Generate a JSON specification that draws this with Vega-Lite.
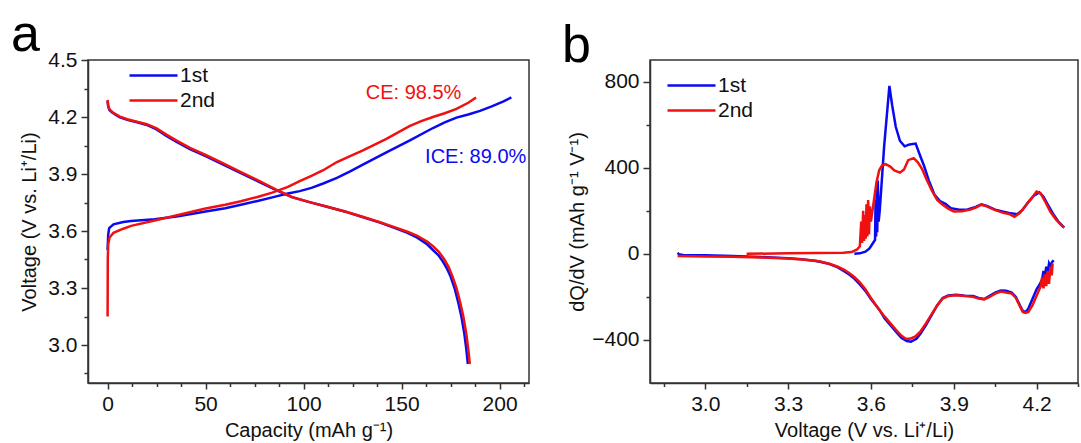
{
  "$schema": "https://vega.github.io/schema/vega-lite/v6.json",
  "padding": {"left": 10, "top": 8, "right": 0, "bottom": 0},
  "background": "white",
  "config": {
    "font": "Liberation Sans",
    "view": {"stroke": "#333", "strokeWidth": 1.5},
    "axis": {"domainColor": "#333", "domainWidth": 1.5, "tickColor": "#333", "tickWidth": 1.5, "labelFont": "Liberation Sans", "labelFontSize": 21, "labelColor": "#111", "titleFont": "Liberation Sans", "titleFontSize": 20, "titleFontWeight": "normal", "titleColor": "#111", "grid": false, "labelPadding": 4},
    "legend": {"labelFont": "Liberation Sans", "labelFontSize": 21, "labelColor": "#111"}
  },
  "datasets": {
    "a": [
      {"c":"1st","s":"1c","x":0,"y":3.50},{"c":"1st","s":"1c","x":0.3,"y":3.58},{"c":"1st","s":"1c","x":0.8,"y":3.615},{"c":"1st","s":"1c","x":3,"y":3.635},{"c":"1st","s":"1c","x":8,"y":3.647},{"c":"1st","s":"1c","x":12,"y":3.653},{"c":"1st","s":"1c","x":24,"y":3.662},{"c":"1st","s":"1c","x":36,"y":3.678},{"c":"1st","s":"1c","x":50,"y":3.703},{"c":"1st","s":"1c","x":60,"y":3.72},{"c":"1st","s":"1c","x":68,"y":3.738},{"c":"1st","s":"1c","x":76,"y":3.757},{"c":"1st","s":"1c","x":84,"y":3.777},{"c":"1st","s":"1c","x":92,"y":3.797},{"c":"1st","s":"1c","x":98,"y":3.81},{"c":"1st","s":"1c","x":104,"y":3.827},{"c":"1st","s":"1c","x":110,"y":3.85},{"c":"1st","s":"1c","x":117,"y":3.88},{"c":"1st","s":"1c","x":124,"y":3.915},{"c":"1st","s":"1c","x":130,"y":3.948},{"c":"1st","s":"1c","x":142,"y":4.012},{"c":"1st","s":"1c","x":154,"y":4.076},{"c":"1st","s":"1c","x":166,"y":4.142},{"c":"1st","s":"1c","x":172,"y":4.172},{"c":"1st","s":"1c","x":178,"y":4.197},{"c":"1st","s":"1c","x":184,"y":4.213},{"c":"1st","s":"1c","x":190,"y":4.232},{"c":"1st","s":"1c","x":196,"y":4.256},{"c":"1st","s":"1c","x":202,"y":4.282},{"c":"1st","s":"1c","x":206,"y":4.303},
      {"c":"1st","s":"1d","x":0,"y":4.285},{"c":"1st","s":"1d","x":0.3,"y":4.255},{"c":"1st","s":"1d","x":1,"y":4.235},{"c":"1st","s":"1d","x":2.5,"y":4.222},{"c":"1st","s":"1d","x":6,"y":4.2},{"c":"1st","s":"1d","x":10,"y":4.185},{"c":"1st","s":"1d","x":15,"y":4.172},{"c":"1st","s":"1d","x":20,"y":4.158},{"c":"1st","s":"1d","x":25,"y":4.135},{"c":"1st","s":"1d","x":30,"y":4.1},{"c":"1st","s":"1d","x":35,"y":4.07},{"c":"1st","s":"1d","x":42,"y":4.031},{"c":"1st","s":"1d","x":50,"y":3.994},{"c":"1st","s":"1d","x":59,"y":3.95},{"c":"1st","s":"1d","x":68,"y":3.905},{"c":"1st","s":"1d","x":77,"y":3.86},{"c":"1st","s":"1d","x":86,"y":3.815},{"c":"1st","s":"1d","x":94,"y":3.778},{"c":"1st","s":"1d","x":103,"y":3.752},{"c":"1st","s":"1d","x":112,"y":3.728},{"c":"1st","s":"1d","x":121,"y":3.703},{"c":"1st","s":"1d","x":130,"y":3.674},{"c":"1st","s":"1d","x":139,"y":3.644},{"c":"1st","s":"1d","x":147,"y":3.614},{"c":"1st","s":"1d","x":153,"y":3.59},{"c":"1st","s":"1d","x":158,"y":3.565},{"c":"1st","s":"1d","x":163,"y":3.53},{"c":"1st","s":"1d","x":166,"y":3.5},{"c":"1st","s":"1d","x":169,"y":3.47},{"c":"1st","s":"1d","x":171,"y":3.44},{"c":"1st","s":"1d","x":173,"y":3.405},{"c":"1st","s":"1d","x":175,"y":3.36},{"c":"1st","s":"1d","x":177,"y":3.3},{"c":"1st","s":"1d","x":179,"y":3.22},{"c":"1st","s":"1d","x":180.5,"y":3.15},{"c":"1st","s":"1d","x":182,"y":3.06},{"c":"1st","s":"1d","x":183,"y":2.98},{"c":"1st","s":"1d","x":183.8,"y":2.9},
      {"c":"2nd","s":"2c","x":0,"y":3.15},{"c":"2nd","s":"2c","x":0.05,"y":3.3},{"c":"2nd","s":"2c","x":0.1,"y":3.45},{"c":"2nd","s":"2c","x":0.3,"y":3.53},{"c":"2nd","s":"2c","x":1,"y":3.566},{"c":"2nd","s":"2c","x":3,"y":3.59},{"c":"2nd","s":"2c","x":8,"y":3.612},{"c":"2nd","s":"2c","x":12,"y":3.627},{"c":"2nd","s":"2c","x":24,"y":3.655},{"c":"2nd","s":"2c","x":36,"y":3.684},{"c":"2nd","s":"2c","x":50,"y":3.718},{"c":"2nd","s":"2c","x":60,"y":3.738},{"c":"2nd","s":"2c","x":68,"y":3.757},{"c":"2nd","s":"2c","x":76,"y":3.778},{"c":"2nd","s":"2c","x":84,"y":3.802},{"c":"2nd","s":"2c","x":92,"y":3.832},{"c":"2nd","s":"2c","x":98,"y":3.862},{"c":"2nd","s":"2c","x":104,"y":3.89},{"c":"2nd","s":"2c","x":110,"y":3.92},{"c":"2nd","s":"2c","x":117,"y":3.963},{"c":"2nd","s":"2c","x":124,"y":3.995},{"c":"2nd","s":"2c","x":130,"y":4.023},{"c":"2nd","s":"2c","x":142,"y":4.084},{"c":"2nd","s":"2c","x":154,"y":4.152},{"c":"2nd","s":"2c","x":160,"y":4.178},{"c":"2nd","s":"2c","x":166,"y":4.2},{"c":"2nd","s":"2c","x":172,"y":4.22},{"c":"2nd","s":"2c","x":178,"y":4.243},{"c":"2nd","s":"2c","x":184,"y":4.275},{"c":"2nd","s":"2c","x":188,"y":4.303},
      {"c":"2nd","s":"2d","x":0,"y":4.29},{"c":"2nd","s":"2d","x":0.3,"y":4.26},{"c":"2nd","s":"2d","x":1,"y":4.24},{"c":"2nd","s":"2d","x":2.5,"y":4.225},{"c":"2nd","s":"2d","x":6,"y":4.203},{"c":"2nd","s":"2d","x":10,"y":4.188},{"c":"2nd","s":"2d","x":15,"y":4.175},{"c":"2nd","s":"2d","x":20,"y":4.162},{"c":"2nd","s":"2d","x":25,"y":4.14},{"c":"2nd","s":"2d","x":30,"y":4.107},{"c":"2nd","s":"2d","x":35,"y":4.077},{"c":"2nd","s":"2d","x":42,"y":4.038},{"c":"2nd","s":"2d","x":50,"y":4.0},{"c":"2nd","s":"2d","x":59,"y":3.956},{"c":"2nd","s":"2d","x":68,"y":3.91},{"c":"2nd","s":"2d","x":77,"y":3.865},{"c":"2nd","s":"2d","x":86,"y":3.818},{"c":"2nd","s":"2d","x":94,"y":3.779},{"c":"2nd","s":"2d","x":103,"y":3.752},{"c":"2nd","s":"2d","x":112,"y":3.728},{"c":"2nd","s":"2d","x":121,"y":3.703},{"c":"2nd","s":"2d","x":130,"y":3.675},{"c":"2nd","s":"2d","x":139,"y":3.646},{"c":"2nd","s":"2d","x":147,"y":3.618},{"c":"2nd","s":"2d","x":153,"y":3.596},{"c":"2nd","s":"2d","x":158,"y":3.575},{"c":"2nd","s":"2d","x":163,"y":3.545},{"c":"2nd","s":"2d","x":166,"y":3.52},{"c":"2nd","s":"2d","x":169,"y":3.49},{"c":"2nd","s":"2d","x":171.5,"y":3.455},{"c":"2nd","s":"2d","x":174,"y":3.41},{"c":"2nd","s":"2d","x":176,"y":3.36},{"c":"2nd","s":"2d","x":178,"y":3.3},{"c":"2nd","s":"2d","x":180,"y":3.22},{"c":"2nd","s":"2d","x":181.5,"y":3.15},{"c":"2nd","s":"2d","x":183,"y":3.06},{"c":"2nd","s":"2d","x":184,"y":2.98},{"c":"2nd","s":"2d","x":184.8,"y":2.9}
    ],
    "ann": [
      {"c":"2nd","x":131.7,"y":4.326,"t":"CE: 98.5%"},
      {"c":"1st","x":162,"y":3.99,"t":"ICE: 89.0%"}
    ],
    "b": [
      {"c":"1st","s":"1c","x":3.54,"y":0},{"c":"1st","s":"1c","x":3.56,"y":2},{"c":"1st","s":"1c","x":3.58,"y":10},{"c":"1st","s":"1c","x":3.595,"y":25},{"c":"1st","s":"1c","x":3.61,"y":55},{"c":"1st","s":"1c","x":3.615,"y":65},{"c":"1st","s":"1c","x":3.617,"y":250},{"c":"1st","s":"1c","x":3.619,"y":80},{"c":"1st","s":"1c","x":3.621,"y":320},{"c":"1st","s":"1c","x":3.623,"y":100},{"c":"1st","s":"1c","x":3.625,"y":340},{"c":"1st","s":"1c","x":3.628,"y":150},{"c":"1st","s":"1c","x":3.632,"y":200},{"c":"1st","s":"1c","x":3.648,"y":500},{"c":"1st","s":"1c","x":3.667,"y":780},{"c":"1st","s":"1c","x":3.677,"y":690},{"c":"1st","s":"1c","x":3.69,"y":590},{"c":"1st","s":"1c","x":3.705,"y":525},{"c":"1st","s":"1c","x":3.722,"y":499},{"c":"1st","s":"1c","x":3.74,"y":508},{"c":"1st","s":"1c","x":3.762,"y":512},{"c":"1st","s":"1c","x":3.777,"y":460},{"c":"1st","s":"1c","x":3.792,"y":410},{"c":"1st","s":"1c","x":3.81,"y":340},{"c":"1st","s":"1c","x":3.83,"y":275},{"c":"1st","s":"1c","x":3.85,"y":245},{"c":"1st","s":"1c","x":3.87,"y":232},{"c":"1st","s":"1c","x":3.89,"y":212},{"c":"1st","s":"1c","x":3.92,"y":205},{"c":"1st","s":"1c","x":3.95,"y":206},{"c":"1st","s":"1c","x":3.98,"y":218},{"c":"1st","s":"1c","x":4.0,"y":230},{"c":"1st","s":"1c","x":4.02,"y":222},{"c":"1st","s":"1c","x":4.05,"y":205},{"c":"1st","s":"1c","x":4.08,"y":195},{"c":"1st","s":"1c","x":4.1,"y":190},{"c":"1st","s":"1c","x":4.13,"y":184},{"c":"1st","s":"1c","x":4.15,"y":205},{"c":"1st","s":"1c","x":4.17,"y":240},{"c":"1st","s":"1c","x":4.19,"y":270},{"c":"1st","s":"1c","x":4.21,"y":285},{"c":"1st","s":"1c","x":4.225,"y":265},{"c":"1st","s":"1c","x":4.24,"y":230},{"c":"1st","s":"1c","x":4.26,"y":185},{"c":"1st","s":"1c","x":4.28,"y":148},{"c":"1st","s":"1c","x":4.3,"y":122},
      {"c":"1st","s":"1d","x":4.262,"y":-30},{"c":"1st","s":"1d","x":4.255,"y":-40},{"c":"1st","s":"1d","x":4.25,"y":-60},{"c":"1st","s":"1d","x":4.245,"y":-45},{"c":"1st","s":"1d","x":4.24,"y":-90},{"c":"1st","s":"1d","x":4.235,"y":-60},{"c":"1st","s":"1d","x":4.23,"y":-110},{"c":"1st","s":"1d","x":4.225,"y":-80},{"c":"1st","s":"1d","x":4.22,"y":-120},{"c":"1st","s":"1d","x":4.21,"y":-145},{"c":"1st","s":"1d","x":4.2,"y":-165},{"c":"1st","s":"1d","x":4.185,"y":-210},{"c":"1st","s":"1d","x":4.17,"y":-255},{"c":"1st","s":"1d","x":4.16,"y":-270},{"c":"1st","s":"1d","x":4.15,"y":-265},{"c":"1st","s":"1d","x":4.14,"y":-240},{"c":"1st","s":"1d","x":4.125,"y":-200},{"c":"1st","s":"1d","x":4.11,"y":-180},{"c":"1st","s":"1d","x":4.09,"y":-172},{"c":"1st","s":"1d","x":4.07,"y":-170},{"c":"1st","s":"1d","x":4.05,"y":-180},{"c":"1st","s":"1d","x":4.03,"y":-195},{"c":"1st","s":"1d","x":4.01,"y":-210},{"c":"1st","s":"1d","x":3.99,"y":-205},{"c":"1st","s":"1d","x":3.97,"y":-196},{"c":"1st","s":"1d","x":3.94,"y":-195},{"c":"1st","s":"1d","x":3.91,"y":-190},{"c":"1st","s":"1d","x":3.88,"y":-193},{"c":"1st","s":"1d","x":3.86,"y":-205},{"c":"1st","s":"1d","x":3.84,"y":-240},{"c":"1st","s":"1d","x":3.82,"y":-285},{"c":"1st","s":"1d","x":3.8,"y":-330},{"c":"1st","s":"1d","x":3.78,"y":-370},{"c":"1st","s":"1d","x":3.765,"y":-395},{"c":"1st","s":"1d","x":3.745,"y":-408},{"c":"1st","s":"1d","x":3.73,"y":-405},{"c":"1st","s":"1d","x":3.71,"y":-390},{"c":"1st","s":"1d","x":3.69,"y":-360},{"c":"1st","s":"1d","x":3.67,"y":-330},{"c":"1st","s":"1d","x":3.65,"y":-300},{"c":"1st","s":"1d","x":3.63,"y":-258},{"c":"1st","s":"1d","x":3.6,"y":-210},{"c":"1st","s":"1d","x":3.58,"y":-172},{"c":"1st","s":"1d","x":3.56,"y":-142},{"c":"1st","s":"1d","x":3.54,"y":-115},{"c":"1st","s":"1d","x":3.52,"y":-95},{"c":"1st","s":"1d","x":3.5,"y":-78},{"c":"1st","s":"1d","x":3.48,"y":-63},{"c":"1st","s":"1d","x":3.45,"y":-48},{"c":"1st","s":"1d","x":3.42,"y":-38},{"c":"1st","s":"1d","x":3.4,"y":-33},{"c":"1st","s":"1d","x":3.35,"y":-25},{"c":"1st","s":"1d","x":3.3,"y":-21},{"c":"1st","s":"1d","x":3.2,"y":-15},{"c":"1st","s":"1d","x":3.1,"y":-10},{"c":"1st","s":"1d","x":3.0,"y":-7},{"c":"1st","s":"1d","x":2.92,"y":-5},{"c":"1st","s":"1d","x":2.905,"y":-2},{"c":"1st","s":"1d","x":2.9,"y":5},
      {"c":"2nd","s":"2c","x":3.15,"y":0},{"c":"2nd","s":"2c","x":3.3,"y":2},{"c":"2nd","s":"2c","x":3.4,"y":4},{"c":"2nd","s":"2c","x":3.5,"y":5},{"c":"2nd","s":"2c","x":3.53,"y":8},{"c":"2nd","s":"2c","x":3.55,"y":20},{"c":"2nd","s":"2c","x":3.56,"y":35},{"c":"2nd","s":"2c","x":3.565,"y":150},{"c":"2nd","s":"2c","x":3.568,"y":50},{"c":"2nd","s":"2c","x":3.572,"y":200},{"c":"2nd","s":"2c","x":3.575,"y":60},{"c":"2nd","s":"2c","x":3.578,"y":180},{"c":"2nd","s":"2c","x":3.581,"y":70},{"c":"2nd","s":"2c","x":3.584,"y":230},{"c":"2nd","s":"2c","x":3.587,"y":80},{"c":"2nd","s":"2c","x":3.59,"y":250},{"c":"2nd","s":"2c","x":3.593,"y":90},{"c":"2nd","s":"2c","x":3.596,"y":220},{"c":"2nd","s":"2c","x":3.6,"y":150},{"c":"2nd","s":"2c","x":3.61,"y":240},{"c":"2nd","s":"2c","x":3.62,"y":330},{"c":"2nd","s":"2c","x":3.63,"y":388},{"c":"2nd","s":"2c","x":3.64,"y":410},{"c":"2nd","s":"2c","x":3.653,"y":416},{"c":"2nd","s":"2c","x":3.67,"y":405},{"c":"2nd","s":"2c","x":3.685,"y":387},{"c":"2nd","s":"2c","x":3.705,"y":377},{"c":"2nd","s":"2c","x":3.72,"y":392},{"c":"2nd","s":"2c","x":3.735,"y":435},{"c":"2nd","s":"2c","x":3.755,"y":444},{"c":"2nd","s":"2c","x":3.77,"y":425},{"c":"2nd","s":"2c","x":3.785,"y":395},{"c":"2nd","s":"2c","x":3.8,"y":350},{"c":"2nd","s":"2c","x":3.82,"y":295},{"c":"2nd","s":"2c","x":3.84,"y":250},{"c":"2nd","s":"2c","x":3.86,"y":228},{"c":"2nd","s":"2c","x":3.88,"y":210},{"c":"2nd","s":"2c","x":3.9,"y":197},{"c":"2nd","s":"2c","x":3.93,"y":198},{"c":"2nd","s":"2c","x":3.96,"y":205},{"c":"2nd","s":"2c","x":3.98,"y":215},{"c":"2nd","s":"2c","x":4.0,"y":228},{"c":"2nd","s":"2c","x":4.02,"y":220},{"c":"2nd","s":"2c","x":4.05,"y":203},{"c":"2nd","s":"2c","x":4.08,"y":190},{"c":"2nd","s":"2c","x":4.1,"y":185},{"c":"2nd","s":"2c","x":4.12,"y":172},{"c":"2nd","s":"2c","x":4.14,"y":190},{"c":"2nd","s":"2c","x":4.16,"y":223},{"c":"2nd","s":"2c","x":4.18,"y":255},{"c":"2nd","s":"2c","x":4.2,"y":289},{"c":"2nd","s":"2c","x":4.215,"y":280},{"c":"2nd","s":"2c","x":4.23,"y":245},{"c":"2nd","s":"2c","x":4.25,"y":195},{"c":"2nd","s":"2c","x":4.27,"y":160},{"c":"2nd","s":"2c","x":4.29,"y":132},{"c":"2nd","s":"2c","x":4.3,"y":122},
      {"c":"2nd","s":"2d","x":4.258,"y":-45},{"c":"2nd","s":"2d","x":4.255,"y":-100},{"c":"2nd","s":"2d","x":4.25,"y":-60},{"c":"2nd","s":"2d","x":4.245,"y":-140},{"c":"2nd","s":"2d","x":4.24,"y":-80},{"c":"2nd","s":"2d","x":4.235,"y":-150},{"c":"2nd","s":"2d","x":4.23,"y":-95},{"c":"2nd","s":"2d","x":4.225,"y":-160},{"c":"2nd","s":"2d","x":4.22,"y":-110},{"c":"2nd","s":"2d","x":4.215,"y":-150},{"c":"2nd","s":"2d","x":4.2,"y":-195},{"c":"2nd","s":"2d","x":4.185,"y":-240},{"c":"2nd","s":"2d","x":4.17,"y":-270},{"c":"2nd","s":"2d","x":4.16,"y":-275},{"c":"2nd","s":"2d","x":4.15,"y":-270},{"c":"2nd","s":"2d","x":4.14,"y":-245},{"c":"2nd","s":"2d","x":4.125,"y":-205},{"c":"2nd","s":"2d","x":4.11,"y":-185},{"c":"2nd","s":"2d","x":4.09,"y":-180},{"c":"2nd","s":"2d","x":4.07,"y":-175},{"c":"2nd","s":"2d","x":4.05,"y":-185},{"c":"2nd","s":"2d","x":4.03,"y":-200},{"c":"2nd","s":"2d","x":4.01,"y":-212},{"c":"2nd","s":"2d","x":3.99,"y":-208},{"c":"2nd","s":"2d","x":3.97,"y":-200},{"c":"2nd","s":"2d","x":3.94,"y":-196},{"c":"2nd","s":"2d","x":3.91,"y":-193},{"c":"2nd","s":"2d","x":3.88,"y":-196},{"c":"2nd","s":"2d","x":3.86,"y":-208},{"c":"2nd","s":"2d","x":3.84,"y":-240},{"c":"2nd","s":"2d","x":3.82,"y":-280},{"c":"2nd","s":"2d","x":3.8,"y":-322},{"c":"2nd","s":"2d","x":3.78,"y":-360},{"c":"2nd","s":"2d","x":3.76,"y":-385},{"c":"2nd","s":"2d","x":3.74,"y":-395},{"c":"2nd","s":"2d","x":3.725,"y":-393},{"c":"2nd","s":"2d","x":3.71,"y":-380},{"c":"2nd","s":"2d","x":3.69,"y":-352},{"c":"2nd","s":"2d","x":3.67,"y":-322},{"c":"2nd","s":"2d","x":3.65,"y":-292},{"c":"2nd","s":"2d","x":3.63,"y":-260},{"c":"2nd","s":"2d","x":3.6,"y":-205},{"c":"2nd","s":"2d","x":3.58,"y":-165},{"c":"2nd","s":"2d","x":3.56,"y":-132},{"c":"2nd","s":"2d","x":3.54,"y":-108},{"c":"2nd","s":"2d","x":3.52,"y":-88},{"c":"2nd","s":"2d","x":3.5,"y":-72},{"c":"2nd","s":"2d","x":3.48,"y":-60},{"c":"2nd","s":"2d","x":3.45,"y":-46},{"c":"2nd","s":"2d","x":3.42,"y":-37},{"c":"2nd","s":"2d","x":3.4,"y":-32},{"c":"2nd","s":"2d","x":3.35,"y":-26},{"c":"2nd","s":"2d","x":3.3,"y":-22},{"c":"2nd","s":"2d","x":3.2,"y":-17},{"c":"2nd","s":"2d","x":3.1,"y":-14},{"c":"2nd","s":"2d","x":3.0,"y":-12},{"c":"2nd","s":"2d","x":2.9,"y":-10}
    ]
  },
  "resolve": {"scale": {"color": "independent"}, "legend": {"color": "independent"}},
  "spacing": 31,
  "hconcat": [
    {
      "width": 441,
      "height": 323,
      "title": {"text": "a", "fontSize": 52, "fontWeight": "normal", "font": "Liberation Sans", "color": "#000", "anchor": "start", "frame": "group", "dx": -77, "baseline": "alphabetic", "offset": -54},
      "encoding": {
        "x": {"field": "x", "type": "quantitative", "scale": {"domain": [-10, 215], "nice": false, "zero": false},
          "axis": {"title": "Capacity (mAh g⁻¹)", "values": [0,12.5,25,37.5,50,62.5,75,87.5,100,112.5,125,137.5,150,162.5,175,187.5,200,212.5],
            "labelExpr": "datum.value % 50 === 0 ? datum.label : ''",
            "tickSize": {"condition": {"test": "datum.value % 50 === 0", "value": 6}, "value": 3.5}, "titlePadding": 6}},
        "y": {"field": "y", "type": "quantitative", "scale": {"domain": [2.8, 4.5], "nice": false, "zero": false},
          "axis": {"title": "Voltage (V vs. Li⁺/Li)", "values": [2.85,3.0,3.15,3.3,3.45,3.6,3.75,3.9,4.05,4.2,4.35,4.5], "format": ".1f",
            "labelExpr": "round(datum.value*20) % 6 === 0 ? datum.label : ''",
            "tickSize": {"condition": {"test": "round(datum.value*20) % 6 === 0", "value": 7}, "value": 4}, "titlePadding": 8}}
      },
      "layer": [
        {
          "data": {"name": "a"},
          "mark": {"type": "line", "strokeWidth": 2.5},
          "encoding": {
            "color": {"field": "c", "type": "nominal", "scale": {"domain": ["1st", "2nd"], "range": ["#0a0af0", "#f01010"]},
              "legend": {"orient": "none", "legendX": 54, "legendY": 4, "title": null, "symbolType": "M-2.4,0H2.4", "symbolSize": 400, "symbolStrokeWidth": 2.5, "labelOffset": 15, "rowPadding": 3, "padding": 0}},
            "detail": {"field": "s"},
            "order": {"value": null}
          }
        },
        {
          "data": {"name": "ann"},
          "mark": {"type": "text", "align": "left", "baseline": "middle", "fontSize": 20, "font": "Liberation Sans"},
          "encoding": {
            "text": {"field": "t"},
            "color": {"field": "c", "type": "nominal", "legend": null}
          }
        }
      ]
    },
    {
      "width": 428,
      "height": 323,
      "title": {"text": "b", "fontSize": 52, "fontWeight": "normal", "font": "Liberation Sans", "color": "#000", "anchor": "start", "frame": "group", "dx": -88, "baseline": "alphabetic", "offset": -54},
      "data": {"name": "b"},
      "mark": {"type": "line", "strokeWidth": 2.5},
      "encoding": {
        "x": {"field": "x", "type": "quantitative", "scale": {"domain": [2.8, 4.35], "nice": false, "zero": false},
          "axis": {"title": "Voltage (V vs. Li⁺/Li)", "values": [2.85,3.0,3.15,3.3,3.45,3.6,3.75,3.9,4.05,4.2,4.35], "format": ".1f",
            "labelExpr": "round(datum.value*20) % 6 === 0 ? datum.label : ''",
            "tickSize": {"condition": {"test": "round(datum.value*20) % 6 === 0", "value": 6}, "value": 3.5}, "titlePadding": 6}},
        "y": {"field": "y", "type": "quantitative", "scale": {"domain": [-600, 900], "nice": false, "zero": false},
          "axis": {"title": "dQ/dV (mAh g⁻¹ V⁻¹)", "values": [-400,-200,0,200,400,600,800],
            "labelExpr": "datum.value % 400 === 0 ? datum.label : ''",
            "tickSize": {"condition": {"test": "datum.value % 400 === 0", "value": 7}, "value": 4}, "titlePadding": 4}},
        "color": {"field": "c", "type": "nominal", "scale": {"domain": ["1st", "2nd"], "range": ["#0a0af0", "#f01010"]},
          "legend": {"orient": "none", "legendX": 30, "legendY": 14, "title": null, "symbolType": "M-2.4,0H2.4", "symbolSize": 400, "symbolStrokeWidth": 2.5, "labelOffset": 15, "rowPadding": 3, "padding": 0}},
        "detail": {"field": "s"},
        "order": {"value": null}
      }
    }
  ]
}
